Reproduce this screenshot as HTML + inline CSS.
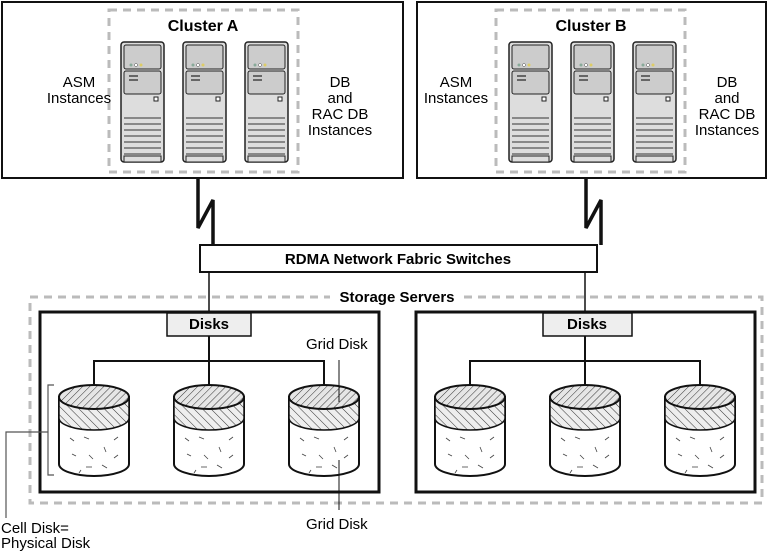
<!DOCTYPE html>
<html><head><meta charset="utf-8"><style>
html,body{margin:0;padding:0;background:#fff}
svg{display:block}
text{font-family:"Liberation Sans",sans-serif;fill:#000}
</style></head><body>
<svg width="768" height="552" viewBox="0 0 768 552" xmlns="http://www.w3.org/2000/svg">
<defs>
<pattern id="h1" width="5" height="5" patternUnits="userSpaceOnUse" patternTransform="rotate(45)"><rect width="5" height="5" fill="#e6e6e6"/><line x1="0" y1="0" x2="0" y2="5" stroke="#333" stroke-width="1"/></pattern>
<pattern id="h2" width="6" height="6" patternUnits="userSpaceOnUse" patternTransform="rotate(-45)"><rect width="6" height="6" fill="#eee"/><line x1="0" y1="0" x2="0" y2="6" stroke="#333" stroke-width="1"/></pattern>
<g id="srv">
<rect x="0" y="0" width="43" height="120" rx="3" fill="#ddd" stroke="#222" stroke-width="1.5"/>
<rect x="3" y="3" width="37" height="24" rx="2" fill="#ccc" stroke="#222"/>
<circle cx="10" cy="23" r="1.5" fill="#8a9"/><circle cx="15" cy="23" r="1.5" fill="#fff" stroke="#555" stroke-width=".5"/><circle cx="20" cy="23" r="1.5" fill="#dc6"/>
<rect x="3" y="29" width="37" height="23" rx="2" fill="#ccc" stroke="#222"/>
<rect x="8" y="33" width="9" height="2" fill="#666"/><rect x="8" y="37" width="9" height="2" fill="#666"/>
<rect x="33" y="55" width="4" height="4" fill="#fff" stroke="#222"/>
<g stroke="#333" stroke-width="1"><line x1="3" y1="76" x2="40" y2="76"/><line x1="3" y1="82" x2="40" y2="82"/><line x1="3" y1="88" x2="40" y2="88"/><line x1="3" y1="94" x2="40" y2="94"/><line x1="3" y1="100" x2="40" y2="100"/><line x1="3" y1="106" x2="40" y2="106"/><line x1="3" y1="112" x2="40" y2="112"/></g>
<rect x="3" y="114" width="37" height="6" fill="#ddd" stroke="#222"/>
</g>
<g id="cyl">
<path d="M-35,397 L-35,464 A35,12 0 0 0 35,464 L35,397 Z" fill="#fff" stroke="#111" stroke-width="2"/>
<path d="M-35,397 L-35,418 A35,12 0 0 0 35,418 L35,397 Z" fill="url(#h2)" stroke="#111" stroke-width="1.5"/>
<ellipse cx="0" cy="397" rx="35" ry="12" fill="url(#h1)" stroke="#111" stroke-width="2"/>
<g stroke="#444" stroke-width="0.8"><line x1="-24" y1="438" x2="-20" y2="441"/><line x1="-10" y1="437" x2="-5" y2="439"/><line x1="20" y1="440" x2="24" y2="437"/><line x1="-22" y1="454" x2="-18" y2="456"/><line x1="-5" y1="455" x2="-1" y2="459"/><line x1="10" y1="447" x2="12" y2="452"/><line x1="-8" y1="467" x2="-2" y2="467"/><line x1="8" y1="465" x2="13" y2="468"/><line x1="20" y1="458" x2="24" y2="455"/><line x1="-15" y1="473" x2="-13" y2="470"/></g>
</g>
</defs>

<rect x="2" y="2" width="401" height="176" fill="#fff" stroke="#111" stroke-width="2"/>
<rect x="417" y="2" width="349" height="176" fill="#fff" stroke="#111" stroke-width="2"/>
<rect x="109" y="10" width="189" height="162" fill="none" stroke="#bbb" stroke-width="3" stroke-dasharray="8,6"/>
<rect x="496" y="10" width="189" height="162" fill="none" stroke="#bbb" stroke-width="3" stroke-dasharray="8,6"/>
<text x="203" y="31" font-size="16" font-weight="bold" text-anchor="middle">Cluster A</text>
<text x="591" y="31" font-size="16" font-weight="bold" text-anchor="middle">Cluster B</text>
<use href="#srv" x="121" y="42"/><use href="#srv" x="183" y="42"/><use href="#srv" x="245" y="42"/>
<use href="#srv" x="509" y="42"/><use href="#srv" x="571" y="42"/><use href="#srv" x="633" y="42"/>
<g font-size="15" text-anchor="middle">
<text x="79" y="87">ASM</text><text x="79" y="103">Instances</text>
<text x="340" y="87">DB</text><text x="340" y="103">and</text><text x="340" y="119">RAC DB</text><text x="340" y="135">Instances</text>
<text x="456" y="87">ASM</text><text x="456" y="103">Instances</text>
<text x="727" y="87">DB</text><text x="727" y="103">and</text><text x="727" y="119">RAC DB</text><text x="727" y="135">Instances</text>
</g>
<path d="M198,178 L198,228 L213,200 L213,245" fill="none" stroke="#111" stroke-width="3.5"/>
<path d="M586,178 L586,228 L601,200 L601,245" fill="none" stroke="#111" stroke-width="3.5"/>
<rect x="200" y="245" width="397" height="27" fill="#fff" stroke="#111" stroke-width="2"/>
<text x="398" y="264" font-size="15" font-weight="bold" text-anchor="middle">RDMA Network Fabric Switches</text>
<line x1="209" y1="272" x2="209" y2="313" stroke="#111" stroke-width="1.5"/>
<line x1="585" y1="272" x2="585" y2="313" stroke="#111" stroke-width="1.5"/>
<rect x="30" y="297" width="732" height="206" fill="none" stroke="#bbb" stroke-width="3" stroke-dasharray="8,6"/>
<rect x="330" y="288" width="134" height="18" fill="#fff"/>
<text x="397" y="302" font-size="15" font-weight="bold" text-anchor="middle">Storage Servers</text>
<rect x="40" y="312" width="339" height="180" fill="#fff" stroke="#111" stroke-width="3"/>
<rect x="416" y="312" width="339" height="180" fill="#fff" stroke="#111" stroke-width="3"/>
<rect x="167" y="313" width="84" height="23" fill="#eee" stroke="#111" stroke-width="1.5"/>
<rect x="543" y="313" width="89" height="23" fill="#eee" stroke="#111" stroke-width="1.5"/>
<text x="209" y="329" font-size="15" font-weight="bold" text-anchor="middle">Disks</text>
<text x="587" y="329" font-size="15" font-weight="bold" text-anchor="middle">Disks</text>
<g fill="none" stroke="#111" stroke-width="2">
<path d="M209,336 V386 M94,386 V361 H324 V386"/>
<path d="M585,336 V386 M470,386 V361 H700 V386"/>
</g>
<use href="#cyl" x="94"/><use href="#cyl" x="209"/><use href="#cyl" x="324"/>
<use href="#cyl" x="470"/><use href="#cyl" x="585"/><use href="#cyl" x="700"/>
<g fill="none" stroke="#555" stroke-width="1.2">
<path d="M54,385 H48 V475 H54"/>
<path d="M48,432 H6 V518"/>
</g>
<line x1="339" y1="360" x2="339" y2="402" stroke="#111" stroke-width="1"/>
<line x1="339" y1="460" x2="339" y2="510" stroke="#111" stroke-width="1"/>
<g font-size="15">
<text x="306" y="349">Grid Disk</text>
<text x="306" y="529">Grid Disk</text>
<text x="1" y="533">Cell Disk=</text>
<text x="1" y="548">Physical Disk</text>
</g>
</svg>
</body></html>
